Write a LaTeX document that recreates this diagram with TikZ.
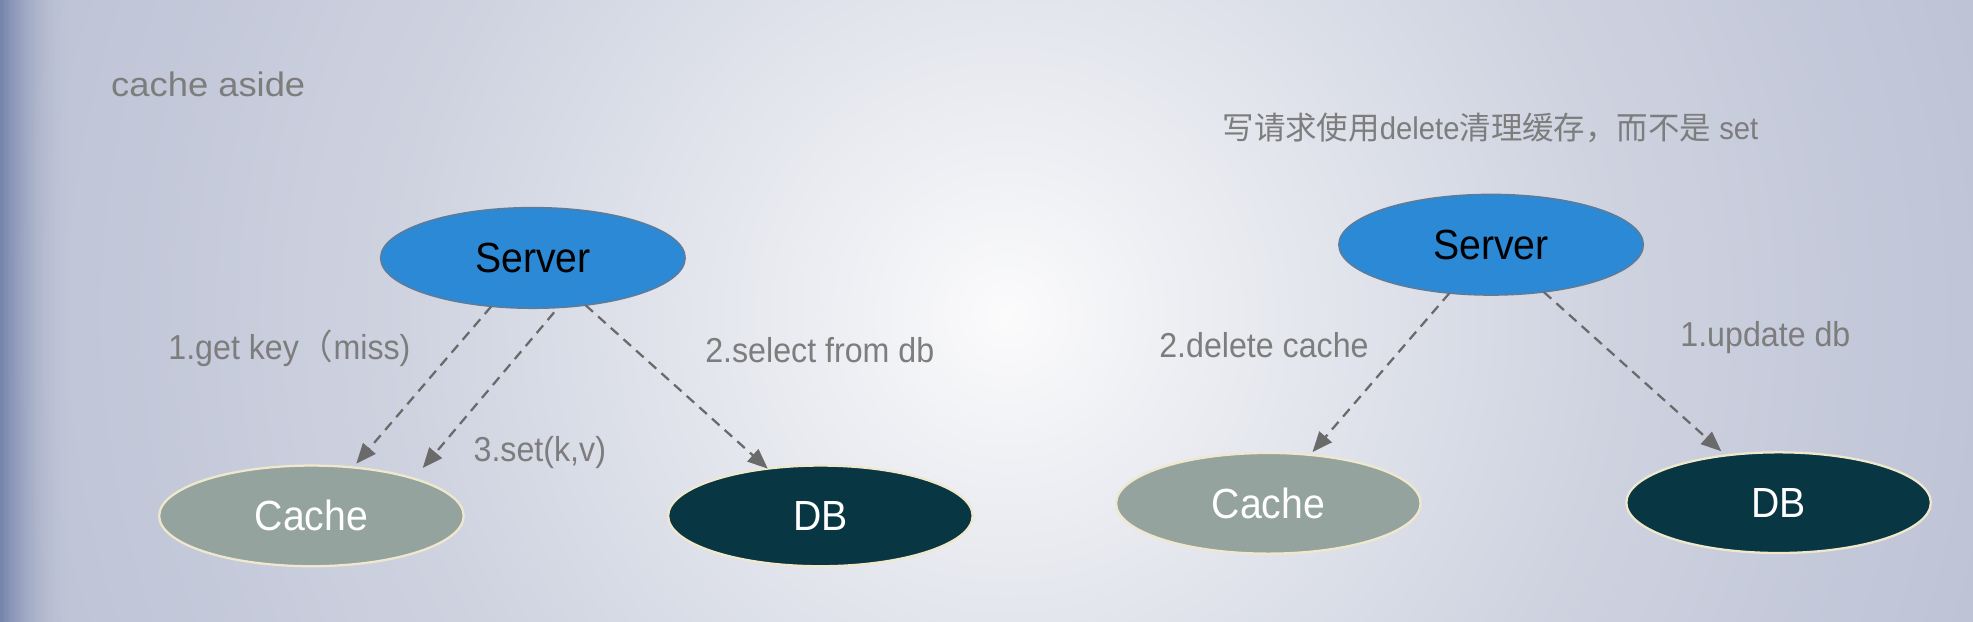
\documentclass[tikz,border=0pt]{standalone}
\usepackage{fontspec}
\setmainfont{Liberation Sans}
\newfontfamily\nodefont{Liberation Sans}[FakeStretch=0.93]
\newfontfamily\titlefont{Liberation Sans}[FakeStretch=1.07]
\newfontfamily\cjk{Noto Sans CJK SC}
\usetikzlibrary{shapes.geometric,arrows.meta}
\definecolor{bgA}{HTML}{FBFBFC}
\definecolor{bgB}{HTML}{EFF0F4}
\definecolor{bgC}{HTML}{E0E3EB}
\definecolor{bgD}{HTML}{CFD3E0}
\definecolor{bgE}{HTML}{C4C9DA}
\definecolor{bgF}{HTML}{BEC4D6}
\definecolor{stripcol}{HTML}{6676A2}
\definecolor{srvfill}{HTML}{2B89D5}
\definecolor{srvline}{HTML}{5E7C98}
\definecolor{cachefill}{HTML}{95A39F}
\definecolor{cream}{HTML}{EFE8CC}
\definecolor{dbfill}{HTML}{083642}
\definecolor{lblgray}{HTML}{7D7D7D}
\definecolor{arrowgray}{HTML}{6A6A6A}
\pgfdeclareradialshading{bgrad}{\pgfpoint{0bp}{0bp}}{color(0bp)=(bgA); color(3.75bp)=(bgB); color(8.75bp)=(bgC); color(15bp)=(bgD); color(21bp)=(bgE); color(25bp)=(bgF); color(50bp)=(bgF)}
\begin{document}
\begin{tikzpicture}[x=1pt,y=1pt,
  every node/.style={inner sep=0pt, outer sep=0pt},
  lbl/.style={text=lblgray, font=\nodefont\fontsize{27.5}{32}\selectfont},
  ell/.style={ellipse, minimum width=242pt, minimum height=80pt, font=\nodefont\fontsize{33.5}{38}\selectfont},
  srv/.style={ell, fill=srvfill, draw=srvline, line width=1.2pt, text=black},
  cch/.style={ell, fill=cachefill, draw=cream, line width=1.8pt, text=white},
  dbs/.style={ell, fill=dbfill, draw=cream, line width=1.8pt, text=white},
  conn/.style={draw=arrowgray, line width=1.8pt, dash pattern=on 8pt off 5.5pt, -{Triangle[length=16pt,width=13pt]}}
]
\useasboundingbox (0,0) rectangle (1568,494);
\begin{scope}
\clip (0,0) rectangle (1568,494);
\shade[shading=bgrad] (0,-556) rectangle (1600,1044);
\foreach \i [evaluate=\i as \op using {0.8*(1-\i/56)^2}] in {0,2,...,54}
  \fill[stripcol, opacity=\op] (\i,0) rectangle (\i+2,494);
\end{scope}

\node[srv] (srvL) at (423.5,289) {Server};
\node[cch] (cacheL) at (247.5,84) {Cache};
\node[dbs] (dbL) at (652,84) {DB};
\node[srv] (srvR) at (1185,299.5) {Server};
\node[cch] (cacheR) at (1008,94) {Cache};
\node[dbs] (dbR) at (1413.5,94.5) {DB};

\draw[conn, shorten >=4pt] (srvL) -- (cacheL);
\draw[conn, shorten <=5pt, shorten >=11pt] (srvL.297) -- (cacheL.20);
\draw[conn] (srvL) -- (dbL);
\draw[conn, shorten >=3pt] (srvR) -- (cacheR);
\draw[conn, shorten >=5pt] (srvR) -- (dbR);

\node[text=lblgray, font=\titlefont\fontsize{27}{32}\selectfont] (title) at (165.5,427) {cache aside};
\node[lbl] (l1) at (230,217) {1.get key{\cjk （}miss)};
\node[lbl] (l3) at (429,134) {3.set(k,v)};
\node[lbl] (l2) at (651.5,216) {2.select from db};
\node[lbl, font=\nodefont\fontsize{25}{30}\selectfont] (note) at (1184.5,392) {{\cjk 写请求使用}delete{\cjk 清理缓存，而不是} set};
\node[lbl] (r2) at (1004.5,220) {2.delete cache};
\node[lbl] (r1) at (1403,226) {1.update db};
\end{tikzpicture}
\end{document}
